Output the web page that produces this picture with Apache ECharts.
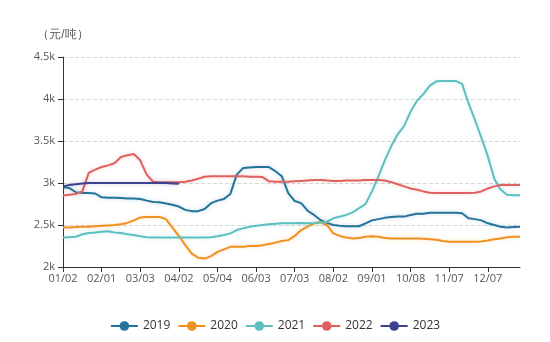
<!DOCTYPE html>
<html><head><meta charset="utf-8">
<script src="https://cdn.jsdelivr.net/npm/echarts@6/dist/echarts.min.js"></script>
<style>html,body{margin:0;padding:0;background:#fff}#c{width:550px;height:342px}</style>
</head><body><div id="c"></div>
<script>
const categories = ["01/02","01/07","01/12","01/17","01/22","01/27",
"02/01","02/06","02/11","02/16","02/21","02/26",
"03/03","03/08","03/13","03/18","03/23","03/28",
"04/02","04/07","04/12","04/17","04/22","04/27",
"05/04","05/09","05/14","05/19","05/24","05/29",
"06/03","06/08","06/13","06/18","06/23","06/28",
"07/03","07/08","07/13","07/18","07/23","07/28",
"08/02","08/07","08/12","08/17","08/22","08/27",
"09/01","09/06","09/11","09/16","09/21","09/26",
"10/08","10/13","10/18","10/23","10/28","11/02",
"11/07","11/12","11/17","11/22","11/27","12/02",
"12/07","12/12","12/17","12/22","12/27","12/31"];

const s2019 = [2950,2940,2890,2880,2880,2875,2830,2825,2825,2820,2815,2815,2810,2790,2775,2770,2755,2740,2720,2680,2665,2665,2690,2760,2790,2810,2870,3100,3180,3185,3190,3190,3190,3140,3080,2880,2785,2760,2670,2620,2560,2525,2500,2490,2485,2485,2485,2520,2555,2570,2585,2595,2600,2600,2620,2635,2635,2645,2645,2645,2645,2645,2640,2580,2570,2555,2520,2500,2480,2470,2475,2480];
const s2020 = [2470,2470,2475,2480,2480,2485,2490,2495,2500,2510,2525,2555,2590,2595,2595,2595,2570,2470,2370,2260,2160,2110,2100,2130,2180,2210,2240,2240,2240,2250,2250,2260,2275,2290,2310,2320,2370,2440,2480,2520,2535,2500,2400,2370,2350,2340,2345,2360,2365,2360,2345,2340,2340,2340,2340,2340,2335,2330,2325,2310,2300,2300,2300,2300,2300,2305,2315,2330,2340,2355,2360,2360];
const s2021 = [2350,2355,2360,2390,2405,2410,2420,2425,2410,2405,2390,2380,2365,2355,2350,2350,2350,2350,2350,2350,2350,2350,2350,2355,2365,2380,2400,2440,2460,2480,2490,2500,2510,2515,2520,2520,2520,2525,2520,2520,2530,2540,2580,2600,2620,2650,2700,2750,2900,3080,3270,3440,3580,3680,3850,3980,4060,4160,4210,4215,4215,4215,4180,3950,3750,3540,3320,3050,2920,2860,2855,2855];
const s2022 = [2850,2860,2870,2900,3120,3160,3190,3210,3235,3310,3330,3345,3270,3100,3015,3010,3010,3010,3010,3015,3030,3050,3075,3080,3080,3080,3080,3080,3080,3075,3075,3070,3020,3015,3015,3015,3020,3025,3030,3035,3035,3030,3025,3025,3030,3030,3030,3035,3035,3035,3030,3010,2985,2960,2935,2920,2900,2885,2880,2880,2880,2880,2880,2880,2885,2900,2935,2960,2975,2975,2975,2975];
const s2023 = [2960,2975,2985,2995,3000,3000,3000,3000,3000,3000,3000,3000,3000,3000,3000,3000,3000,2995,2990];

const seriesNames = ["2019","2020","2021","2022","2023"];
const seriesData = [s2019, s2020, s2021, s2022, s2023];
const colors = ["#24739c","#f0901f","#5cbfc0","#e06060","#3b4390"];

const chart = echarts.init(document.getElementById('c'), null, {renderer:'canvas'});
chart.setOption({
  animation:false,
  color: colors,
  grid:{left:63,right:30,top:57,bottom:75},
  legend:{
    bottom:5, left:'center', itemWidth:27, itemHeight:12, itemGap:7,
    textStyle:{color:'#333',fontSize:12,fontFamily:'"Open Sans", sans-serif'},
    data: seriesNames
  },
  xAxis:{
    type:'category', boundaryGap:false, data:categories,
    axisLine:{lineStyle:{color:'#333'}},
    axisTick:{interval:5,lineStyle:{color:'#333'}},
    axisLabel:{interval:5,color:'#555',fontSize:11,margin:6,fontFamily:'"Open Sans", sans-serif'}
  },
  yAxis:{
    type:'value', min:2000, max:4500, interval:500,
    name:'（元/吨）', nameGap:16,
    nameTextStyle:{color:'#555',fontSize:12,align:'center'},
    axisLine:{show:true,lineStyle:{color:'#333'}},
    axisTick:{show:true,lineStyle:{color:'#333'}},
    axisLabel:{color:'#555',fontSize:11,fontFamily:'"Open Sans", sans-serif',formatter:v=>(v/1000)+'k'},
    splitLine:{lineStyle:{type:'dashed',color:'#d8d8d8'}}
  },
  series: seriesNames.map((n,i)=>({
    name:n, type:'line', data:seriesData[i], showSymbol:false, symbol:'circle', symbolSize:8,
    lineStyle:{width:2, shadowColor:colors[i]+'44', shadowBlur:4},
    itemStyle:{color:colors[i]}
  }))
});
</script></body></html>
